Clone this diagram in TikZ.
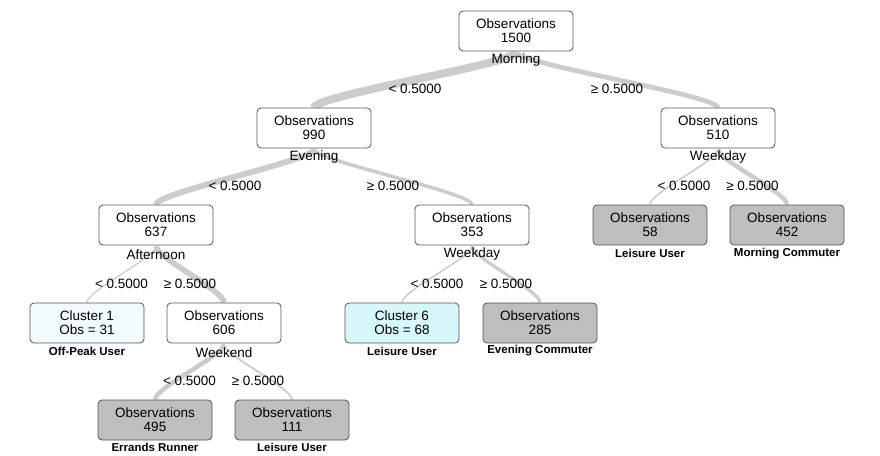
\documentclass[tikz,border=0pt]{standalone}
\usepackage{fontspec}
\setmainfont{Liberation Sans}
\usetikzlibrary{calc,backgrounds}
\definecolor{boxborder}{HTML}{555555}
\definecolor{leafgray}{HTML}{BEBEBE}
\definecolor{edgegray}{HTML}{CCCCCC}
\definecolor{cone}{HTML}{F3FAFD}
\definecolor{csix}{HTML}{D7F7FA}
\newcommand{\fs}{\fontsize{13.5}{14}\selectfont}
\newcommand{\fb}{\fontsize{11.5}{12}\selectfont\bfseries}
\newcommand{\treeedge}[3]{%
  \draw[edge, line width=#3pt] ([yshift=-1pt]#1.south) .. controls +(0pt,-11pt) and +(0pt,12pt) .. (#2.north);}
\begin{document}
\begin{tikzpicture}[x=1pt,y=-1pt,
  box/.style={draw=boxborder, line width=0.8pt, rounded corners=4pt, fill=white,
    minimum width=114pt, minimum height=40pt, align=center, font=\fs, inner sep=0pt},
  graybox/.style={box, fill=leafgray},
  split/.style={font=\fs, inner sep=0pt},
  leaflab/.style={font=\fb, inner sep=0pt},
  elab/.style={font=\fs, inner sep=0pt},
  edge/.style={draw=edgegray, line cap=butt}]
\useasboundingbox (0,0) rectangle (880,455);
% boxes
\node[box] (root) at (516,31) {Observations\\1500};
\node[box] (n990) at (314,128) {Observations\\990};
\node[box] (n510) at (718,128) {Observations\\510};
\node[box] (n637) at (156,225) {Observations\\637};
\node[box] (n353) at (472,225) {Observations\\353};
\node[graybox] (n58) at (650,225) {Observations\\58};
\node[graybox] (n452) at (787,225) {Observations\\452};
\node[box, fill=cone] (c1) at (87,323) {Cluster 1\\Obs = 31};
\node[box] (n606) at (224,323) {Observations\\606};
\node[box, fill=csix] (c6) at (402,323) {Cluster 6\\Obs = 68};
\node[graybox] (n285) at (540,323) {Observations\\285};
\node[graybox] (n495) at (155,420) {Observations\\495};
\node[graybox] (n111) at (292,420) {Observations\\111};
% edges
\begin{scope}[on background layer]
\treeedge{root}{n990}{8}
\treeedge{root}{n510}{4.8}
\treeedge{n990}{n637}{5.8}
\treeedge{n990}{n353}{3.5}
\treeedge{n510}{n58}{1.6}
\treeedge{n510}{n452}{4.4}
\treeedge{n637}{c1}{1.3}
\treeedge{n637}{n606}{5.6}
\treeedge{n353}{c6}{1.6}
\treeedge{n353}{n285}{3.2}
\treeedge{n606}{n495}{4.6}
\treeedge{n606}{n111}{1.8}
\end{scope}
% edge labels
\node[elab] (e990) at ([yshift=-9.5pt]$(root.south)!0.5!(n990.north)$) {< 0.5000};
\node[elab] (e510) at ([yshift=-9.5pt]$(root.south)!0.5!(n510.north)$) {≥ 0.5000};
\node[elab] (e637) at ([yshift=-9.5pt]$(n990.south)!0.5!(n637.north)$) {< 0.5000};
\node[elab] (e353) at ([yshift=-9.5pt]$(n990.south)!0.5!(n353.north)$) {≥ 0.5000};
\node[elab] (e58) at ([yshift=-9.5pt]$(n510.south)!0.5!(n58.north)$) {< 0.5000};
\node[elab] (e452) at ([yshift=-9.5pt]$(n510.south)!0.5!(n452.north)$) {≥ 0.5000};
\node[elab] (ec1) at ([yshift=-9.5pt]$(n637.south)!0.5!(c1.north)$) {< 0.5000};
\node[elab] (e606) at ([yshift=-9.5pt]$(n637.south)!0.5!(n606.north)$) {≥ 0.5000};
\node[elab] (ec6) at ([yshift=-9.5pt]$(n353.south)!0.5!(c6.north)$) {< 0.5000};
\node[elab] (e285) at ([yshift=-9.5pt]$(n353.south)!0.5!(n285.north)$) {≥ 0.5000};
\node[elab] (e495) at ([yshift=-9.5pt]$(n606.south)!0.5!(n495.north)$) {< 0.5000};
\node[elab] (e111) at ([yshift=-9.5pt]$(n606.south)!0.5!(n111.north)$) {≥ 0.5000};
% split labels
\node[split] (s-root) at ([yshift=-9pt]root.south) {Morning};
\node[split] (s-990) at ([yshift=-9pt]n990.south) {Evening};
\node[split] (s-510) at ([yshift=-9pt]n510.south) {Weekday};
\node[split] (s-637) at ([yshift=-9pt]n637.south) {Afternoon};
\node[split] (s-353) at ([yshift=-9pt]n353.south) {Weekday};
\node[split] (s-606) at ([yshift=-9pt]n606.south) {Weekend};
% leaf labels
\node[leaflab] (l58) at ([yshift=-8pt]n58.south) {Leisure User};
\node[leaflab] (l452) at ([yshift=-8pt]n452.south) {Morning Commuter};
\node[leaflab] (lc1) at ([yshift=-7.5pt]c1.south) {Off-Peak User};
\node[leaflab] (lc6) at ([yshift=-7.5pt]c6.south) {Leisure User};
\node[leaflab] (l285) at ([yshift=-7.5pt]n285.south) {Evening Commuter};
\node[leaflab] (l495) at ([yshift=-6.5pt]n495.south) {Errands Runner};
\node[leaflab] (l111) at ([yshift=-6.5pt]n111.south) {Leisure User};
\end{tikzpicture}
\end{document}
